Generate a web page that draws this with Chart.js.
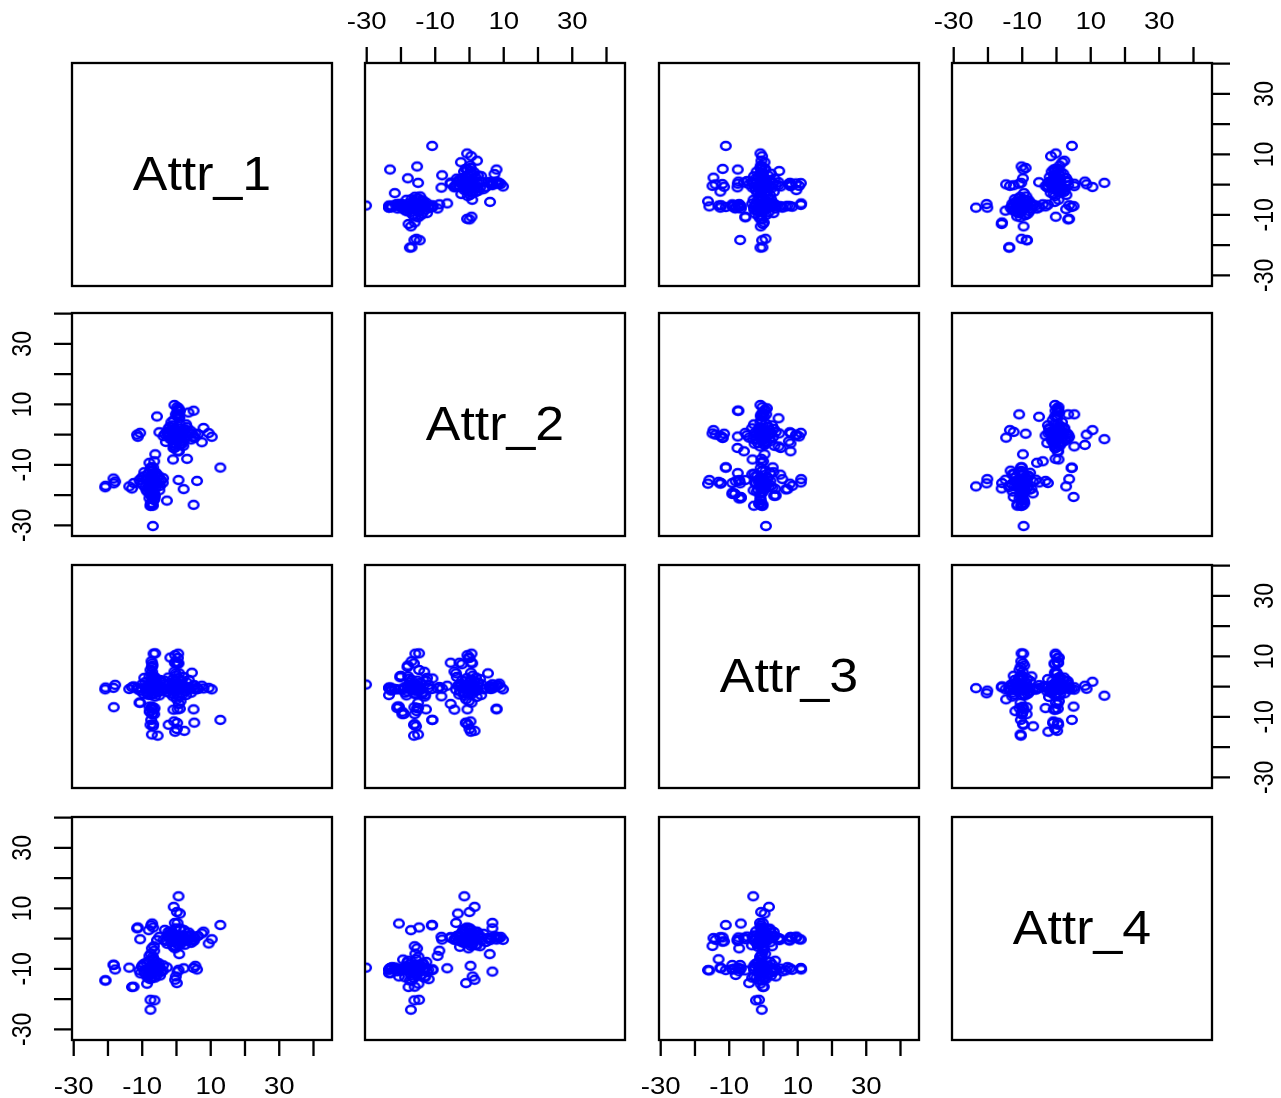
<!DOCTYPE html>
<html>
<head>
<meta charset="utf-8">
<script src="https://cdn.jsdelivr.net/npm/chart.js@4.4.1/dist/chart.umd.min.js"></script>
<style>
html, body { margin: 0; padding: 0; background: #fff; overflow: hidden; width: 1281px; height: 1098px; }
canvas { position: absolute; }
</style>
</head>
<body>
<script>
const attrNames = ['Attr_1', 'Attr_2', 'Attr_3', 'Attr_4'];

const attr1 = [
  -11.5, -11.3, -10.6, -5.0, -3.8, -2.6, -1.5, 2.0, 3.2, 4.1,
  5.2, 6.3, 7.4, 7.9, 9.4, 10.3, 12.8, 4.5, 5.0, 5.5,
  5.2, 0.6, 5.0, 3.5, 0.2, 0.4, -5.7, 1.0, -0.8, 0.9,
  -1.2, 0.5, -0.3, 1.1, -0.6, 0.3, -0.9, 0.7, 3.1, -1.0,
  0.2, -0.4, -1.8, 0.6, -0.5, 0.4, -0.2, 0.8, -0.6, 0.3,
  -2.3, 0.1, 2.3, -0.7, 0.5, -0.9, 1.2, -0.3, 0.2, -0.4,
  0.6, -0.8, 0.1, 1.0, -0.5, 0.9, -1.1, 0.3, -0.4, 0.8,
  -0.2, 0.1, -0.4, 0.5, 0.3, 0.4, -0.2, 0.3, 0.2, -0.6,
  0.7, -0.3, 0.4, -0.9, 1.0, -0.1, 0.5, -0.5, -20.8, -18.3,
  -13.0, -10.8, -10.1, -4.0, -2.8, 0.6, 2.1, 6.0, 5.0, -12.5,
  -5.0, -9.0, -5.8, -8.6, -20.7, -17.9, -13.8, -18.4, -6.9, -6.9,
  -6.2, -7.3, -7.6, -6.7, -7.4, -7.1, -6.8, -7.2, -7.5, -6.6,
  -7.0, -7.4, -7.9, -6.5, -8.1, -6.2, -7.1, -6.8, -7.3, -6.9,
  -7.5, -6.4, -7.8, -7.0, -7.6, -5.5, -7.2, -6.8, -7.4, -6.7,
  -7.3, -7.0, -7.6, -6.5, -7.9, -6.3, -7.1, -6.9, -7.1, -6.8,
  -7.4, -7.2, -6.6, -7.5, -6.9, -7.3, -7.6, -7.6, -6.4, -7.8,
  -6.7, -7.0, -7.2, -7.0, -7.4, -6.6, -7.2, -6.8, -7.5, -6.9, -7.3,
  2.5, -2.0, 1.5, -1.8, 3.0, -2.7, 2.2, -1.0, 1.7, -3.1,
  3.6, -0.8, 2.8, -2.4, 1.2, 4.3, -1.5, 0.9, 2.0, -3.4,
  -5.2, -9.1, -4.8, -9.6, -5.6, -8.8, -6.1, -8.3, -4.5, -10.0,
  -6.0, -8.5, -5.0, -9.4, -7.9, -6.3, -10.5, -3.9, -7.7, -6.6
];

const attr2 = [
  0.0, -0.7, 0.6, 0.8, -0.5, 0.3, -1.2, 0.9, -0.4, 1.3,
  -0.8, 0.2, -2.5, 2.2, 0.5, -0.7, -10.9, 0.4, -0.6, 0.3,
  -1.1, 8.7, 7.9, 7.3, 9.1, 6.2, 6.0, 7.9, 4.8, 3.6,
  2.4, 1.5, -1.8, -3.0, -4.4, -5.5, -4.4, -5.5, -8.0, -8.2,
  -2.2, -0.6, -0.3, 0.8, -2.9, 0.0, -3.9, 5.4, 9.8, 7.9,
  -0.4, 0.0, 1.5, 0.3, -0.8, 0.6, -0.2, 0.5, -0.9, 0.4,
  -1.5, 1.5, 0.0, -3.4, -3.9, 0.4, -0.8, 0.7, -0.3, 5.9,
  0.9, -1.0, 1.5, 0.6, 6.7, 8.3, 6.7, 6.7, 0.1, 0.4,
  -0.5, -0.2, 0.6, -0.7, 0.2, 1.0, -1.1, 0.3, -17.4, -16.1,
  -17.8, -15.0, -14.2, -15.9, -21.8, -15.0, -18.0, -15.3, -23.2, -16.0,
  -15.8, -14.8, -16.4, -14.9, -16.9, -15.5, -17.1, -14.5, -30.2, -23.5,
  -6.5, -20.1, -23.5, -12.7, -10.8, -13.2, -10.8, -18.1, -22.6, -21.6,
  -12.0, -19.0, -9.3, -8.8, -17.1, -14.7, -16.2, -20.1, -15.2, -15.8,
  -23.5, -21.1, -19.6, -19.1, -16.2, -16.2, -15.0, -16.0, -15.0, -15.8,
  -16.9, -18.0, -14.7, -19.6, -21.0, -20.2, -22.9, -15.6, -20.6, -14.7,
  -11.0, -15.3, -16.0, -15.8, -14.9, -16.3, -14.7, -17.1, -16.1, -15.4,
  -20.6, -23.0, -16.0, -15.5, -15.1, -15.9, -14.8, -16.2, -15.7, -14.6, -16.4,
  1.8, 2.6, -2.2, -1.5, 2.5, 0.9, -1.9, 3.1, -3.0, -2.4,
  0.6, -2.8, 3.4, 1.9, -1.3, -1.6, 4.1, 2.1, -3.7, 0.2,
  -13.6, -17.3, -16.9, -13.8, -14.0, -18.2, -17.6, -12.9, -15.0, -16.5,
  -12.6, -18.8, -18.4, -12.4, -17.9, -13.1, -15.8, -14.4, -11.9, -19.4
];

const attr3 = [
  -0.4, -0.9, -5.3, -0.2, -1.0, 0.4, -0.7, -0.1, -1.2, -0.3,
  0.5, -0.8, 0.3, -0.6, -0.4, -0.9, -11.0, 4.6, -7.5, -0.9,
  -11.9, 1.0, 0.3, -0.2, -0.3, -0.8, 0.2, -7.3, -0.6, 0.7,
  -1.1, -0.2, -0.5, 0.4, 5.0, 7.9, -7.6, -5.7, -0.6, -3.2,
  7.4, 10.4, 9.6, 7.7, 7.9, 9.5, 4.4, 4.4, -0.9, -7.5,
  -12.6, -14.0, -14.6, -11.5, 2.8, -2.5, -4.8, 8.0, -12.0, -14.9,
  -3.0, 1.6, -0.7, 0.3, -1.0, -0.4, 0.6, -1.2, 0.2, -0.5,
  3.6, -4.2, -1.3, 10.9, -0.2, 0.5, 0.8, -0.6, -0.6, -0.3,
  -0.8, 0.0, -1.0, -0.4, 0.3, -0.7, -0.2, 0.5, -0.9, -6.8,
  -0.2, -5.3, -0.6, -0.3, -0.8, -0.1, 0.3, -0.4, -0.7, 0.1,
  -0.5, -0.2, 0.4, -0.9, -0.3, 0.6, -0.8, -0.4, 0.7, -0.5,
  0.3, 3.5, -0.3, -7.5, -11.0, 4.9, 2.7, 6.5, -1.1, -0.9,
  -0.4, -0.2, -0.6, -0.1, 0.4, 11.0, 7.7, 3.5, 2.0, -2.5,
  -2.8, -7.1, -8.3, -9.0, -12.6, -16.2, -15.8, -12.4, -7.1, 10.9,
  8.4, 7.0, 5.5, -9.1, -6.6, 3.1, -1.3, -13.1, -6.6, -0.4,
  -0.8, -7.1, -0.2, 0.5, -1.0, 0.2, -1.3, -0.5, -2.2, -8.1,
  -0.9, -0.3, -9.1, -0.5, -0.2, -0.8, 0.1, -0.9, -0.4, -0.6, 0.3,
  -1.5, 1.2, 2.0, -2.2, 1.4, -1.8, -0.3, 2.5, -2.6, 0.9,
  2.2, -1.6, -2.8, 3.0, 1.8, -2.0, -0.9, -3.4, 3.2, 1.9,
  -1.8, 1.5, 2.2, -2.4, 1.0, -1.6, 2.6, -2.7, -1.2, 0.8,
  1.9, -2.0, -2.9, 2.9, 3.4, -3.3, -1.4, 1.3, 0.6, -0.9
];

const attr4 = [
  3.4, 3.7, -0.2, 0.6, -0.4, 1.0, -0.9, 0.3, -0.6, 1.2,
  -0.3, 0.9, 1.7, 2.3, -1.6, -0.2, 4.5, -0.5, -0.8, -9.0,
  0.4, 0.2, 0.5, 0.8, 0.6, 0.1, -0.5, 0.4, -1.1, 0.4,
  0.9, -0.3, 0.2, -0.7, -0.2, 0.5, -0.4, 0.3, -0.3, 0.6,
  -0.5, -0.2, 0.7, -0.6, 0.4, 0.3, -0.1, 0.2, -0.4, -0.3,
  0.5, -0.4, 0.2, -0.9, 0.4, -0.2, 0.7, 0.4, -1.0, -2.4,
  14.0, 10.5, 8.8, 8.3, 5.2, 3.0, 1.8, -1.9, -3.2, -5.1,
  -12.5, -14.7, -13.6, -0.3, 5.2, 0.4, 3.4, -10.9, 0.1, -0.5,
  0.6, 0.9, -0.8, 0.2, -0.3, 0.4, -0.1, 1.3, -13.8, -8.7,
  -16.0, -10.5, -9.3, -10.6, -9.5, -10.3, -9.8, -10.2, -9.7, -15.9,
  -9.7, -10.3, -11.0, -14.9, -13.8, -10.2, -9.6, -8.6, -9.6, -10.3,
  -9.8, -10.1, -11.4, -9.6, -10.4, -9.9, -10.1, -10.5, -9.4, -10.0,
  -10.3, -9.7, -5.7, -4.0, 2.8, -10.2, -9.8, -10.0, -10.6, -9.5,
  -10.2, -10.8, -9.9, -10.2, -9.6, -10.4, -10.5, -9.8, -10.0, -9.7,
  -10.3, -9.4, -10.8, -10.1, -9.9, -10.6, -10.0, -6.8, 5.0, 3.7,
  4.4, -3.2, -2.5, -5.0, -6.0, -13.0, -20.2, -23.5, -20.4, -12.0,
  -12.5, -11.4, -8.7, -10.0, -9.6, -10.4, -10.7, -9.3, -10.1, -9.8, -10.6,
  -2.0, 1.5, -1.2, 2.4, 0.8, -1.7, 2.8, -2.5, 1.1, -0.8,
  2.0, -2.7, -0.6, 2.2, 3.3, -1.4, 1.6, -2.2, 0.9, 2.9,
  -8.1, -11.6, -12.2, -8.4, -11.9, -7.9, -8.6, -12.4, -10.9, -9.0,
  -7.7, -12.8, -9.2, -11.0, -7.3, -12.9, -11.5, -8.8, -13.4, -6.9
];

const tickValues = [-30, -20, -10, 0, 10, 20, 30, 40];
const tickLabels = ['-30', '', '-10', '', '10', '', '30', ''];
const xRange = [-30.5, 45.4];
const yRange = [-33.5, 40.2];

const attrs = [attr1, attr2, attr3, attr4];

// panel placement on the page
const colX = [72, 365, 659, 952];
const rowY = [63, 313, 565, 817];
const panelW = 260, panelH = 223, pad = 70;

// slightly wide open circle, like the R pch=1 marker in the picture
const marker = document.createElement('canvas');
marker.width = 16;
marker.height = 14;
const mctx = marker.getContext('2d');
mctx.strokeStyle = '#0000ff';
mctx.lineWidth = 2.5;
mctx.beginPath();
mctx.ellipse(8, 7, 4.8, 3.9, 0, 0, Math.PI * 2);
mctx.stroke();

function stretchText(ctx, text, x, y, sx, rot) {
  ctx.save();
  ctx.translate(x, y);
  ctx.scale(sx, 1);
  if (rot) ctx.rotate(rot);
  ctx.fillText(text, 0, 0);
  ctx.restore();
}

const panelPlugin = {
  id: 'panel',
  afterDraw(chart, args, opts) {
    const ctx = chart.ctx;
    const a = chart.chartArea;
    const x = chart.scales.x, y = chart.scales.y;
    ctx.save();
    ctx.strokeStyle = '#000';
    ctx.fillStyle = '#000';
    ctx.lineWidth = 2.3;
    ctx.strokeRect(a.left, a.top, a.right - a.left, a.bottom - a.top);

    ctx.textAlign = 'center';
    ctx.textBaseline = 'middle';
    if (opts.title) {
      ctx.font = '48px "Liberation Sans", Arial, sans-serif';
      stretchText(ctx, opts.title, (a.left + a.right) / 2, (a.top + a.bottom) / 2 + 2, 1.08, 0);
    }

    ctx.font = '23px "Liberation Sans", Arial, sans-serif';
    ctx.beginPath();
    tickValues.forEach((v, i) => {
      const lab = tickLabels[i];
      if (opts.top) {
        const px = x.getPixelForValue(v);
        ctx.moveTo(px, a.top);
        ctx.lineTo(px, a.top - 16);
        if (lab) stretchText(ctx, lab, px, a.top - 40, 1.2, 0);
      }
      if (opts.bottom) {
        const px = x.getPixelForValue(v);
        ctx.moveTo(px, a.bottom);
        ctx.lineTo(px, a.bottom + 16);
        if (lab) stretchText(ctx, lab, px, a.bottom + 48, 1.2, 0);
      }
      if (opts.left) {
        const py = y.getPixelForValue(v);
        ctx.moveTo(a.left, py);
        ctx.lineTo(a.left - 18, py);
        if (lab) stretchText(ctx, lab, a.left - 49, py, 1.2, -Math.PI / 2);
      }
      if (opts.right) {
        const py = y.getPixelForValue(v);
        ctx.moveTo(a.right, py);
        ctx.lineTo(a.right + 18, py);
        if (lab) stretchText(ctx, lab, a.right + 53, py, 1.2, -Math.PI / 2);
      }
    });
    ctx.stroke();
    ctx.restore();
  }
};

for (let r = 0; r < 4; r++) {
  for (let c = 0; c < 4; c++) {
    const canvas = document.createElement('canvas');
    canvas.width = panelW + 2 * pad;
    canvas.height = panelH + 2 * pad;
    canvas.style.left = (colX[c] - pad) + 'px';
    canvas.style.top = (rowY[r] - pad) + 'px';
    document.body.appendChild(canvas);

    const points = r === c ? [] : attrs[c].map((v, k) => ({ x: v, y: attrs[r][k] }));

    new Chart(canvas, {
      type: 'scatter',
      data: {
        datasets: [{
          data: points,
          pointStyle: marker,
          pointRadius: 4.5,
          pointHoverRadius: 4.5,
          borderColor: '#0000ff',
          backgroundColor: 'rgba(0,0,0,0)',
          clip: 0
        }]
      },
      options: {
        responsive: false,
        animation: false,
        events: [],
        layout: { padding: pad },
        scales: {
          x: { type: 'linear', display: false, min: xRange[0], max: xRange[1] },
          y: { type: 'linear', display: false, min: yRange[0], max: yRange[1] }
        },
        plugins: {
          legend: { display: false },
          tooltip: { enabled: false },
          panel: {
            title: r === c ? attrNames[r] : null,
            top: r === 0 && c % 2 === 1,
            bottom: r === 3 && c % 2 === 0,
            left: c === 0 && r % 2 === 1,
            right: c === 3 && r % 2 === 0
          }
        }
      },
      plugins: [panelPlugin]
    });
  }
}
</script>
</body>
</html>
